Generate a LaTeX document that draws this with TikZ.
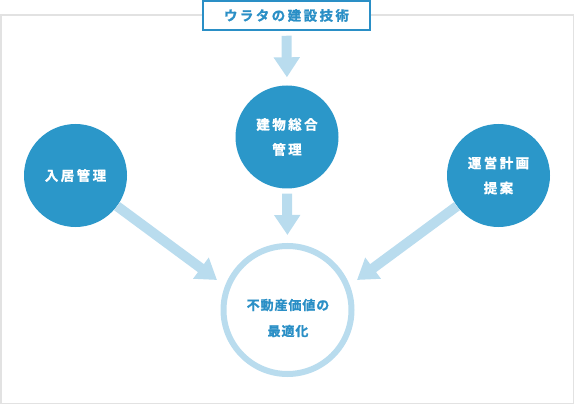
\documentclass[tikz,border=0pt]{standalone}
\usepackage{fontspec}
\newfontfamily\jpw[LetterSpace=18,BoldFont={Noto Sans CJK JP Bold},BoldFeatures={FakeBold=1.2}]{Noto Sans CJK JP}
\newfontfamily\jpn[LetterSpace=7,BoldFont={Noto Sans CJK JP Bold},BoldFeatures={FakeBold=1.2}]{Noto Sans CJK JP}
\usetikzlibrary{arrows.meta}
\definecolor{darkb}{HTML}{2B97C9}
\definecolor{lightb}{HTML}{B9DCEE}
\definecolor{textb}{HTML}{2A8FC6}
\definecolor{framec}{HTML}{E2E2E2}
\tikzset{
  bigcirc/.style={circle, fill=darkb, minimum size=103pt, inner sep=0pt, text=white,
    font=\jpw\bfseries\fontsize{13.5pt}{25pt}\selectfont, align=center},
  fatarrow/.style={draw=lightb, line width=10pt,
    -{Triangle[width=25pt,length=20pt]}},
}
\begin{document}
\begin{tikzpicture}[x=1pt,y=-1pt]
\useasboundingbox (0,0) rectangle (574,404);
\draw[framec, line width=1.5pt] (0.75,15) rectangle (573.25,403.25);
\node[draw=textb, line width=1.5pt, fill=white, minimum width=167pt, minimum height=29pt,
  inner sep=0pt, text=textb, font=\jpw\bfseries\fontsize{13.5pt}{16pt}\selectfont]
  (tech) at (286.5,15.5) {ウラタの建設技術};
\node[bigcirc] (sogo) at (287,137) {建物総合\\管理};
\node[bigcirc] (nyukyo) at (75.5,175.5) {入居管理};
\node[bigcirc] (unei) at (498.5,175.5) {運営計画\\提案};
\node[circle, draw=lightb, line width=6pt, fill=white, minimum size=128pt, inner sep=0pt]
  (ring) at (287.5,310) {};
\node[text=textb, align=center, font=\jpn\bfseries\fontsize{13pt}{26pt}\selectfont]
  (goal) at (288,318) {不動産価値の\\最適化};
\coordinate (tl) at (217,280);
\coordinate (tr) at (357,280);
\draw[fatarrow, shorten <=5pt, shorten >=8pt] (tech.south) -- (sogo.north);
\draw[fatarrow, shorten <=5pt, shorten >=8pt] (sogo.south) -- (ring.north);
\draw[fatarrow] (nyukyo) -- (tl);
\draw[fatarrow] (unei) -- (tr);
\end{tikzpicture}
\end{document}
